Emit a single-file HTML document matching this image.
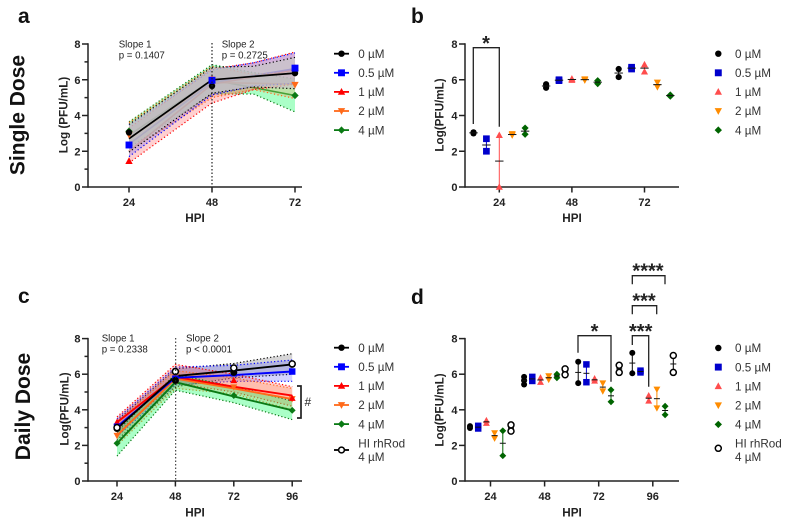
<!DOCTYPE html>
<html lang="en">
<head>
<meta charset="utf-8">
<title>Viral titer charts</title>
<style>
html,body{margin:0;padding:0;background:#fff;width:789px;height:525px;overflow:hidden}
svg{display:block;font-family:"Liberation Sans",Arial,sans-serif}
.panel{font-weight:700;font-size:21px;fill:#111}
.side{font-weight:700;font-size:21px;fill:#111}
.axt{font-weight:700;font-size:11.7px;fill:#222}
.tick{font-weight:700;font-size:11px;fill:#222}
.note{font-size:9.7px;fill:#222}
.leg{font-size:11.7px;fill:#333}
.star{font-weight:700;font-size:20px;fill:#222}
.br{fill:none;stroke:#222;stroke-width:1.3}
</style>
</head>
<body>
<svg id="fig" xmlns="http://www.w3.org/2000/svg" width="789" height="525" viewBox="0 0 789 525">
  <text class="panel" x="18" y="23">a</text>
  <text class="panel" x="411" y="23">b</text>
  <text class="panel" x="18" y="303">c</text>
  <text class="panel" x="411" y="304">d</text>
  <text class="side" transform="translate(24.5,115) rotate(-90)" text-anchor="middle">Single Dose</text>
  <text class="side" transform="translate(30,406.5) rotate(-90)" text-anchor="middle">Daily Dose</text>

  <text class="axt" transform="translate(67.5,115) rotate(-90)" text-anchor="middle">Log (PFU/mL)</text>
  <text class="axt" transform="translate(443.5,115) rotate(-90)" text-anchor="middle">Log(PFU/mL)</text>
  <text class="axt" transform="translate(68.5,409) rotate(-90)" text-anchor="middle">Log(PFU/mL)</text>
  <text class="axt" transform="translate(443.5,410) rotate(-90)" text-anchor="middle">Log(PFU/mL)</text>
  <text class="axt" x="195" y="222" text-anchor="middle">HPI</text>
  <text class="axt" x="572" y="222" text-anchor="middle">HPI</text>
  <text class="axt" x="195" y="516.5" text-anchor="middle">HPI</text>
  <text class="axt" x="572" y="516.5" text-anchor="middle">HPI</text>

  <g id="plots"></g>

  <line x1="212" x2="212" y1="43" y2="187" stroke="#222" stroke-width="1.2" stroke-dasharray="1.5 2"/>
  <line x1="175.7" x2="175.7" y1="338" y2="481" stroke="#222" stroke-width="1" stroke-dasharray="1.5 2"/>

  <text class="note" x="118.7" y="47.5">Slope 1</text>
  <text class="note" x="118.7" y="58.5">p = 0.1407</text>
  <text class="note" x="221.7" y="47.5">Slope 2</text>
  <text class="note" x="221.7" y="58.5">p = 0.2725</text>
  <text class="note" x="101.7" y="341.5">Slope 1</text>
  <text class="note" x="101.7" y="352.5">p = 0.2338</text>
  <text class="note" x="186" y="341.5">Slope 2</text>
  <text class="note" x="186" y="352.5">p &lt; 0.0001</text>

  <path class="br" d="M473.3 124V47.7H499.3V126.7"/>
  <text class="star" x="486" y="50" text-anchor="middle">*</text>
  <path class="br" style="stroke-width:1.7" d="M297 386H301V418H297"/>
  <text class="note" style="font-size:12px" x="304.5" y="406">#</text>
  <path class="br" d="M578 352.7V335.7H611V381.7"/>
  <text class="star" x="594.5" y="338" text-anchor="middle">*</text>
  <path class="br" d="M632.3 345V335.7H648.7V386.7"/>
  <text class="star" x="640.7" y="338" text-anchor="middle">***</text>
  <path class="br" d="M632.3 314.3V305.7H656.7V314.3"/>
  <text class="star" x="644" y="307.5" text-anchor="middle">***</text>
  <path class="br" d="M632.3 284.3V275.7H665V284.3"/>
  <text class="star" x="648" y="277.5" text-anchor="middle">****</text>
</svg>
<script>
/* ---------- data ---------- */
const doseNames = ['0 µM', '0.5 µM', '1 µM', '2 µM', '4 µM'];
const yTickLabels = [0, 2, 4, 6, 8];
const yMinorTicks = [1, 3, 5, 7];

const aHours = [24, 48, 72];
const aBandHours = [24, 48, 60, 72];
const aPoints = [
  [3.05, 5.65, 6.37],
  [2.35, 5.97, 6.65],
  [1.45, 6.02, 6.65],
  [2.93, 6.0, 5.72],
  [3.12, 5.87, 5.12]
];
const aFits = [
  [2.7, 6.0, 6.37],
  [2.4, 5.85, 6.62],
  [2.0, 5.75, 6.55],
  [2.7, 5.85, 5.75],
  [2.9, 6.0, 5.12]
];
const aUpper = [
  [3.5, 6.7, 6.75, 7.25],
  [3.45, 6.55, 6.95, 7.5],
  [3.3, 6.6, 6.95, 7.55],
  [3.6, 6.75, 6.3, 6.45],
  [3.65, 6.85, 6.4, 6.05]
];
const aLower = [
  [1.95, 5.25, 5.6, 5.5],
  [1.7, 5.15, 5.65, 5.8],
  [1.35, 4.7, 5.45, 5.75],
  [2.0, 5.0, 5.45, 4.95],
  [2.2, 5.2, 5.2, 4.2]
];

const bGroups = ['24', '48', '72'];
const bReplicates = [
  [[3.06, 3.0], [5.75, 5.55], [6.6, 6.15]],
  [[2.7, 2.0], [6.0, 5.95], [6.7, 6.6]],
  [[2.9, 0], [6.05, 5.98], [6.85, 6.45]],
  [[2.97, 2.9], [6.03, 5.98], [5.85, 5.6]],
  [[3.3, 2.95], [5.95, 5.78], [5.15, 5.08]]
];

const cHours = [24, 48, 72, 96];
const cPoints = [
  [2.95, 5.65, 6.1, 6.55],
  [3.05, 5.75, 6.05, 6.15],
  [3.3, 5.7, 5.65, 4.65],
  [2.55, 5.85, 5.28, 4.62],
  [2.12, 5.6, 4.8, 3.97],
  [3.0, 6.15, 6.35, 6.58]
];
const cFits = [
  [2.95, 5.9, 6.2, 6.55],
  [3.05, 5.8, 5.95, 6.15],
  [3.3, 5.85, 5.3, 4.8],
  [2.55, 5.75, 5.2, 4.6],
  [2.12, 5.55, 4.75, 3.97]
];
const cUpper = [
  [3.4, 6.3, 6.6, 7.15],
  [3.5, 6.4, 6.5, 6.8],
  [3.6, 6.55, 6.0, 5.3],
  [3.3, 6.2, 5.8, 5.2],
  [2.8, 6.0, 5.3, 4.5]
];
const cLower = [
  [2.3, 5.3, 5.8, 6.0],
  [2.5, 5.4, 5.6, 5.6],
  [2.7, 5.5, 5.0, 4.2],
  [2.0, 5.2, 4.9, 4.0],
  [1.4, 5.1, 4.4, 3.45]
];

const dGroups = ['24', '48', '72', '96'];
const dReplicates = [
  [[3.08, 2.98], [5.85, 5.65, 5.42], [6.7, 5.5], [7.2, 6.05]],
  [[3.1, 2.95], [5.85, 5.62], [6.55, 5.55], [6.2, 6.1]],
  [[3.4, 3.25], [5.8, 5.55], [5.75, 5.62], [4.8, 4.5]],
  [[2.7, 2.4], [5.9, 5.7], [5.5, 5.05], [5.15, 4.1]],
  [[2.82, 1.42], [6.0, 5.8], [5.12, 4.45], [4.2, 3.72]],
  [[3.15, 2.8], [6.3, 5.97], [6.5, 6.1], [7.05, 6.1]]
];

/* ---------- style ---------- */
const NS = 'http://www.w3.org/2000/svg';
const root = document.getElementById('plots');
const shapes = ['circle', 'square', 'up', 'down', 'diamond', 'open'];
const lineColors = ['#000000', '#0000ff', '#ff0000', '#ff6a1a', '#0a7a14', '#000000'];
const fillColors = ['rgba(200,198,200,.74)', 'rgba(90,90,255,.26)', 'rgba(255,60,60,.24)', 'rgba(255,140,70,.24)', 'rgba(20,255,100,.36)'];
const dotColors = ['#000000', '#0000cc', '#ff4d4d', '#ff8c00', '#006400', '#000000'];

function add(parent, tag, attrs, name) {
  const e = document.createElementNS(NS, tag);
  for (const k in attrs) e.setAttribute(k, attrs[k]);
  
  
  parent.appendChild(e);
  return e;
}
function label(parent, txt, attrs, name) {
  const t = add(parent, 'text', attrs, name);
  t.textContent = txt;
  return t;
}
function marker(parent, shape, x, y, r, color, name) {
  if (shape === 'circle') return add(parent, 'circle', {cx: x, cy: y, r: r, fill: color}, name);
  if (shape === 'open') return add(parent, 'circle', {cx: x, cy: y, r: r, fill: '#fff', stroke: color, 'stroke-width': 1.5}, name);
  if (shape === 'square') return add(parent, 'rect', {x: x - r * 1.08, y: y - r * 1.08, width: 2.16 * r, height: 2.16 * r, fill: color}, name);
  let pts;
  if (shape === 'up') pts = [[x, y - r * 1.2], [x + r * 1.15, y + r * .9], [x - r * 1.15, y + r * .9]];
  if (shape === 'down') pts = [[x, y + r * 1.2], [x + r * 1.15, y - r * .9], [x - r * 1.15, y - r * .9]];
  if (shape === 'diamond') pts = [[x, y - r * 1.15], [x + r * 1.15, y], [x, y + r * 1.15], [x - r * 1.15, y]];
  return add(parent, 'polygon', {points: pts.map(p => p.join(',')).join(' '), fill: color}, name);
}
function axes(p, xTickVals, xTickPos, minor) {
  const g = add(root, 'g', {stroke: '#222', 'stroke-width': 1.5, fill: 'none'}, p.id + '-axes');
  add(g, 'line', {x1: p.x0, x2: p.x0, y1: p.yScale(8) - .7, y2: p.yScale(0) + .7}, p.id + '-y-axis');
  add(g, 'line', {x1: p.x0, x2: p.x1, y1: p.yScale(0), y2: p.yScale(0)}, p.id + '-x-axis');
  yTickLabels.forEach(v => {
    add(g, 'line', {x1: p.x0 - 6, x2: p.x0, y1: p.yScale(v), y2: p.yScale(v)}, p.id + '-y-tick');
    label(root, String(v), {class: 'tick', x: p.x0 - 7.5, y: p.yScale(v) + 4, 'text-anchor': 'end'}, p.id + '-y-tick-label');
  });
  if (minor) yMinorTicks.forEach(v => {
    add(g, 'line', {x1: p.x0 - 3.5, x2: p.x0, y1: p.yScale(v), y2: p.yScale(v)}, p.id + '-y-minor-tick');
  });
  xTickVals.forEach((v, i) => {
    add(g, 'line', {x1: xTickPos[i], x2: xTickPos[i], y1: p.yScale(0), y2: p.yScale(0) + 5.5}, p.id + '-x-tick');
    label(root, String(v), {class: 'tick', x: xTickPos[i], y: p.yScale(0) + 19, 'text-anchor': 'middle'}, p.id + '-x-tick-label');
  });
}
function polyline(xs, ys) { return xs.map((x, i) => x.toFixed(1) + ',' + ys[i].toFixed(1)).join(' '); }

function band(p, i, bandHours, upper, lower, dash) {
  const ux = bandHours.map(p.xScale), uy = upper[i].map(p.yScale), ly = lower[i].map(p.yScale);
  const all = polyline(ux, uy) + ' ' + polyline(ux.slice().reverse(), ly.slice().reverse());
  add(root, 'polygon', {points: all, fill: fillColors[i], stroke: 'none'}, p.id + '-ci-band-' + i);
  add(root, 'polyline', {points: polyline(ux, uy), fill: 'none', stroke: lineColors[i], 'stroke-width': 1.2, 'stroke-dasharray': dash}, p.id + '-ci-upper-' + i);
  add(root, 'polyline', {points: polyline(ux, ly), fill: 'none', stroke: lineColors[i], 'stroke-width': 1.2, 'stroke-dasharray': dash}, p.id + '-ci-lower-' + i);
}
function fitLine(p, i, hours, fit, w) {
  add(root, 'polyline', {points: polyline(hours.map(p.xScale), fit[i].map(p.yScale)), fill: 'none', stroke: lineColors[i], 'stroke-width': w}, p.id + '-fit-line-' + i);
}
function scatter(p, replicates, r) {
  replicates.forEach((rows, s) => rows.forEach((vals, g) => {
    const x = p.xGroup(g, s);
    const lo = Math.min(...vals), hi = Math.max(...vals);
    const mean = vals.reduce((a, b) => a + b, 0) / vals.length;
    add(root, 'line', {x1: x, x2: x, y1: p.yScale(lo), y2: p.yScale(hi), stroke: dotColors[s], 'stroke-width': 1}, p.id + '-error-bar');
    vals.forEach(v => marker(root, shapes[s], x, p.yScale(v), r, dotColors[s], p.id + '-point'));
    add(root, 'line', {x1: x - p.meanW, x2: x + p.meanW, y1: p.yScale(mean), y2: p.yScale(mean), stroke: '#111', 'stroke-width': 1}, p.id + '-mean-line');
  }));
}
function legend(x, top, names, withLine, xText) {
  names.forEach((n, i) => {
    const y = top + i * 19.1;
    if (withLine) add(root, 'line', {x1: x - 7.5, x2: x + 7.5, y1: y, y2: y, stroke: lineColors[i], 'stroke-width': 1.8}, 'legend-line');
    marker(root, shapes[i], x, y, 3.2, withLine ? lineColors[i] : dotColors[i], 'legend-marker');
    label(root, n, {class: 'leg', x: xText, y: y + 4.2}, 'legend-entry');
  });
}

/* ---------- panels ---------- */
const panelA = {id: 'panel-a', x0: 88, x1: 302,
  yScale: v => 187 - v * 17.875,
  xScale: h => 129 + (h - 24) * 83 / 24};
const panelB = {id: 'panel-b', x0: 465, x1: 679, meanW: 4.2,
  yScale: v => 187 - v * 17.875,
  xGroup: (g, s) => 473.5 + g * 72.6 + s * 12.9};
const panelC = {id: 'panel-c', x0: 88, x1: 302,
  yScale: v => 481 - v * 17.8,
  xScale: h => 117 + (h - 24) * 58.4 / 24};
const panelD = {id: 'panel-d', x0: 465, x1: 679, meanW: 3,
  yScale: v => 481 - v * 17.8,
  xGroup: (g, s) => 470 + g * 54.1 + s * 8.2};

/* panel a */
axes(panelA, aHours, aHours.map(panelA.xScale), true);
[4, 3, 2, 1].forEach(i => fitLine(panelA, i, aHours, aFits, 1.6));
[4, 3, 2, 1, 0].forEach(i => band(panelA, i, aBandHours, aUpper, aLower, '1.2 2.4'));
fitLine(panelA, 0, aHours, aFits, 1.7);
[2, 3, 4, 0, 1].forEach(i => aHours.forEach((h, k) => {
  marker(root, shapes[i], panelA.xScale(h), panelA.yScale(aPoints[i][k]), 3.2, lineColors[i], 'panel-a-point');
}));
legend(341.5, 53.7, doseNames, true, 358.3);

/* panel b */
axes(panelB, bGroups, bGroups.map((_, g) => panelB.xGroup(g, 2)), false);
scatter(panelB, bReplicates, 3.1);
legend(718.3, 53.7, doseNames, false, 735);

/* panel c */
axes(panelC, cHours, cHours.map(panelC.xScale), true);
[0, 1, 2, 3, 4].forEach(i => band(panelC, i, cHours, cUpper, cLower, '1.2 2.2'));
[4, 3, 2, 1, 0].forEach(i => fitLine(panelC, i, cHours, cFits, 1.9));
[4, 3, 2, 1, 0, 5].forEach(i => cHours.forEach((h, k) => {
  marker(root, shapes[i], panelC.xScale(h), panelC.yScale(cPoints[i][k]), i === 0 ? 3.5 : 3, lineColors[i], 'panel-c-point');
}));
legend(341.5, 347.7, doseNames, true, 358.3);
add(root, 'line', {x1: 334, x2: 349, y1: 450, y2: 450, stroke: '#000', 'stroke-width': 1.8}, 'legend-line');
marker(root, 'open', 341.5, 450, 2.9, '#000', 'legend-marker');
label(root, 'HI rhRod', {class: 'leg', x: 358.3, y: 447.5}, 'legend-entry');
label(root, '4 µM', {class: 'leg', x: 358.3, y: 461}, 'legend-entry');

/* panel d */
axes(panelD, dGroups, dGroups.map((_, g) => panelD.xGroup(g, 2.5)), false);
scatter(panelD, dReplicates, 3);
legend(718.3, 348, doseNames, false, 735);
marker(root, 'open', 718.3, 448.3, 3, '#000', 'legend-marker');
label(root, 'HI rhRod', {class: 'leg', x: 735, y: 447.5}, 'legend-entry');
label(root, '4 µM', {class: 'leg', x: 735, y: 461}, 'legend-entry');
</script>
</body>
</html>
